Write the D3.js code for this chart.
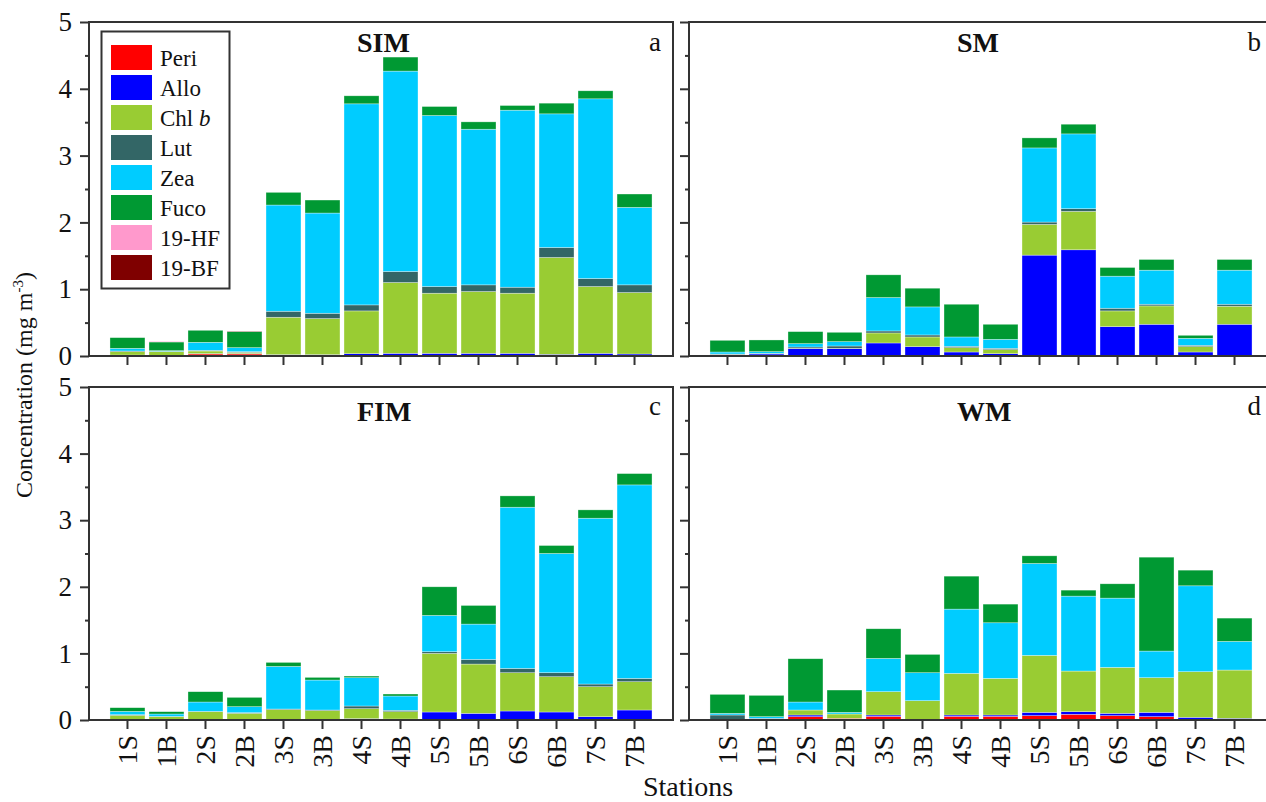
<!DOCTYPE html>
<html>
<head>
<meta charset="utf-8">
<script src="https://cdn.jsdelivr.net/npm/d3@7"></script>
<style>
  html, body { margin: 0; padding: 0; background: #fff; }
  svg { display: block; }
  text { font-family: "Liberation Serif", "Times New Roman", serif; fill: #111; }
</style>
</head>
<body>
<svg id="chart" width="1266" height="802"></svg>
<script>
// ---------- data ----------
const stations = ["1S","1B","2S","2B","3S","3B","4S","4B","5S","5B","6S","6B","7S","7B"];
const pigments = ["Peri","Allo","Chl b","Lut","Zea","Fuco","19-HF","19-BF"];
const pigmentColors = ["#ff0000","#0000ff","#99cc33","#336666","#00ccff","#009933","#ff99cc","#7f0000"];
const yTicks = [0,1,2,3,4,5];

// SIM (a)
const simPeri = [0.01,0.005,0.03,0.03,0,0,0,0,0,0,0,0,0,0];
const simAllo = [0.005,0,0.005,0.005,0.02,0.02,0.035,0.04,0.04,0.04,0.04,0.025,0.04,0.03];
const simChlb = [0.05,0.06,0.04,0.02,0.56,0.54,0.64,1.06,0.9,0.925,0.9,1.45,1.0,0.92];
const simLut  = [0.01,0.005,0.01,0.01,0.09,0.08,0.09,0.165,0.1,0.1,0.09,0.15,0.12,0.115];
const simZea  = [0.04,0.01,0.12,0.06,1.59,1.5,3.01,3.0,2.56,2.33,2.65,2.0,2.69,1.16];
const simFuco = [0.16,0.13,0.18,0.24,0.19,0.195,0.12,0.21,0.135,0.11,0.07,0.16,0.12,0.2];
const simHF   = [0,0.01,0,0,0,0,0,0,0,0,0,0,0,0];
const simBF   = [0,0,0,0.005,0,0,0,0,0,0,0,0,0,0];

// SM (b)
const smPeri = [0,0,0,0,0,0,0,0,0,0,0,0,0,0];
const smAllo = [0.02,0.03,0.11,0.11,0.195,0.14,0.06,0.035,1.51,1.59,0.44,0.475,0.06,0.475];
const smChlb = [0.005,0.005,0.005,0.005,0.15,0.145,0.065,0.06,0.46,0.575,0.235,0.275,0.08,0.27];
const smLut  = [0.005,0.005,0.02,0.035,0.03,0.03,0.02,0.02,0.035,0.04,0.04,0.025,0.02,0.03];
const smZea  = [0.03,0.025,0.05,0.065,0.5,0.42,0.14,0.135,1.11,1.12,0.48,0.51,0.105,0.51];
const smFuco = [0.175,0.175,0.18,0.14,0.34,0.28,0.49,0.225,0.15,0.145,0.13,0.16,0.045,0.16];
const smHF   = [0,0,0,0,0,0,0,0,0,0,0,0,0,0];
const smBF   = [0,0,0,0,0,0,0,0,0,0,0,0,0,0];

// FIM (c)
const fimPeri = [0,0,0,0,0,0,0,0,0,0,0,0,0,0];
const fimAllo = [0.005,0,0,0,0.005,0.01,0.02,0.015,0.12,0.1,0.135,0.12,0.05,0.15];
const fimChlb = [0.065,0.05,0.125,0.1,0.15,0.13,0.15,0.11,0.88,0.74,0.575,0.53,0.45,0.425];
const fimLut  = [0.01,0.005,0.005,0.01,0.01,0.01,0.04,0.02,0.025,0.07,0.065,0.06,0.04,0.05];
const fimZea  = [0.05,0.035,0.14,0.09,0.64,0.45,0.425,0.215,0.545,0.53,2.42,1.79,2.49,2.905];
const fimFuco = [0.055,0.035,0.155,0.14,0.06,0.04,0.025,0.03,0.43,0.28,0.17,0.12,0.125,0.17];
const fimHF   = [0,0,0,0,0,0,0,0,0,0,0,0,0,0];
const fimBF   = [0,0,0,0,0,0,0,0,0,0,0,0,0,0];

// WM (d)
const wmPeri = [0,0,0.05,0.025,0.055,0.01,0.055,0.055,0.065,0.085,0.065,0.05,0,0];
const wmAllo = [0,0.02,0.025,0,0.02,0,0.02,0.02,0.05,0.04,0.035,0.065,0.04,0.025];
const wmChlb = [0,0,0.075,0.065,0.35,0.28,0.625,0.55,0.855,0.61,0.69,0.52,0.685,0.725];
const wmLut  = [0.075,0.005,0,0,0,0,0,0,0,0,0,0,0,0];
const wmZea  = [0.025,0.025,0.12,0.025,0.5,0.42,0.965,0.835,1.38,1.125,1.04,0.4,1.29,0.43];
const wmFuco = [0.285,0.32,0.65,0.335,0.445,0.275,0.495,0.28,0.115,0.09,0.215,1.41,0.235,0.35];
const wmHF   = [0,0,0,0,0,0,0,0,0,0,0,0,0,0];
const wmBF   = [0,0,0,0,0,0,0,0,0,0,0,0,0,0];

const panelTitles = ["SIM","SM","FIM","WM"];
const panelLetters = ["a","b","c","d"];
const panelSeries = [
  [simPeri,simAllo,simChlb,simLut,simZea,simFuco,simHF,simBF],
  [smPeri,smAllo,smChlb,smLut,smZea,smFuco,smHF,smBF],
  [fimPeri,fimAllo,fimChlb,fimLut,fimZea,fimFuco,fimHF,fimBF],
  [wmPeri,wmAllo,wmChlb,wmLut,wmZea,wmFuco,wmHF,wmBF]
];

// ---------- layout ----------
const svg = d3.select("#chart");
svg.append("rect").attr("width",1266).attr("height",802).attr("fill","#fff");

const colX = [89, 689];
const plotW = 584;
const rowY = [[22, 356], [387, 720]];

const color = d3.scaleOrdinal().domain(pigments).range(pigmentColors);

panelSeries.forEach((series, p) => {
  const col = p % 2, row = Math.floor(p / 2);
  const x0 = colX[col], x1 = x0 + plotW;
  const yTop = rowY[row][0], yBot = rowY[row][1];

  const x = d3.scaleBand().domain(stations).range([x0, x1]).paddingInner(0.103).paddingOuter(0.538);
  const y = d3.scaleLinear().domain([0, 5]).range([yBot, yTop]);

  const table = stations.map((s, i) => {
    const r = { station: s };
    pigments.forEach((k, j) => { r[k] = series[j][i]; });
    return r;
  });
  const stacked = d3.stack().keys(pigments)(table);

  const g = svg.append("g");

  // bars
  g.selectAll("g.layer").data(stacked).join("g")
    .attr("class","layer")
    .attr("fill", d => color(d.key))
    .selectAll("rect").data(d => d).join("rect")
      .attr("x", d => x(d.data.station))
      .attr("width", x.bandwidth())
      .attr("y", d => y(d[1]))
      .attr("height", d => Math.max(0, y(d[0]) - y(d[1])))
      .attr("stroke", "#ffffff")
      .attr("stroke-opacity", 0.55)
      .attr("stroke-width", 0.6);

  // frame
  g.append("rect")
    .attr("x", x0).attr("y", yTop)
    .attr("width", plotW).attr("height", yBot - yTop)
    .attr("fill","none").attr("stroke","#333").attr("stroke-width",2);

  // y axis major
  const yAxis = d3.axisLeft(y).tickValues(yTicks).tickSize(9).tickPadding(8)
    .tickFormat(col === 0 ? d3.format("d") : () => "");
  const ya = g.append("g").attr("transform", `translate(${x0},0)`).call(yAxis);
  ya.select(".domain").remove();
  ya.selectAll("line").attr("stroke","#333").attr("stroke-width",2);
  ya.selectAll("text").style("font-size","27px").style("font-family","Liberation Serif").attr("fill","#111");

  // y axis minor
  const yMinor = d3.axisLeft(y).tickValues([0.5,1.5,2.5,3.5,4.5]).tickSize(4).tickFormat(() => "");
  const ym = g.append("g").attr("transform", `translate(${x0},0)`).call(yMinor);
  ym.select(".domain").remove();
  ym.selectAll("line").attr("stroke","#333").attr("stroke-width",2);

  // x axis
  const xAxis = d3.axisBottom(x).tickSize(9).tickFormat(row === 1 ? (d => d) : () => "");
  const xa = g.append("g").attr("transform", `translate(0,${yBot})`).call(xAxis);
  xa.select(".domain").remove();
  xa.selectAll("line").attr("stroke","#333").attr("stroke-width",2);
  if (row === 1) {
    xa.selectAll("text")
      .style("font-size","28px").style("font-family","Liberation Serif").attr("fill","#111")
      .attr("text-anchor","end")
      .attr("transform","rotate(-90)")
      .attr("x", -15).attr("y", 0).attr("dy","0.35em");
  }

  // titles
  g.append("text")
    .attr("x", x0 + 268).attr("y", yTop + (row === 0 ? 30 : 34))
    .style("font-size","28px").style("font-weight","bold")
    .text(panelTitles[p]);
  g.append("text")
    .attr("x", x0 + 572).attr("y", yTop + (row === 0 ? 29 : 28))
    .attr("text-anchor","end")
    .style("font-size","27px")
    .text(panelLetters[p]);
});

// legend
const leg = svg.append("g");
leg.append("rect").attr("x",101.5).attr("y",31.5).attr("width",128).attr("height",257)
  .attr("fill","#fff").attr("stroke","#333").attr("stroke-width",2);
const items = leg.selectAll("g.item").data(pigments).join("g")
  .attr("class","item")
  .attr("transform", (d, i) => `translate(111,${45 + i * 30})`);
items.append("rect").attr("width",41).attr("height",25).attr("fill", d => color(d));
items.append("text").attr("x",49).attr("y",12.5).attr("dy","0.35em")
  .style("font-size","23px")
  .each(function(d) {
    const t = d3.select(this);
    if (d === "Chl b") {
      t.append("tspan").text("Chl ");
      t.append("tspan").style("font-style","italic").text("b");
    } else {
      t.text(d);
    }
  });

// axis labels
const yl = svg.append("text")
  .attr("transform","translate(32,385) rotate(-90)")
  .attr("text-anchor","middle")
  .style("font-size","24px");
yl.append("tspan").text("Concentration (mg m");
yl.append("tspan").attr("dy",-9).style("font-size","15px").text("-3");
yl.append("tspan").attr("dy",9).text(")");

svg.append("text").attr("x",688).attr("y",796).attr("text-anchor","middle")
  .style("font-size","28px").text("Stations");
</script>
</body>
</html>
